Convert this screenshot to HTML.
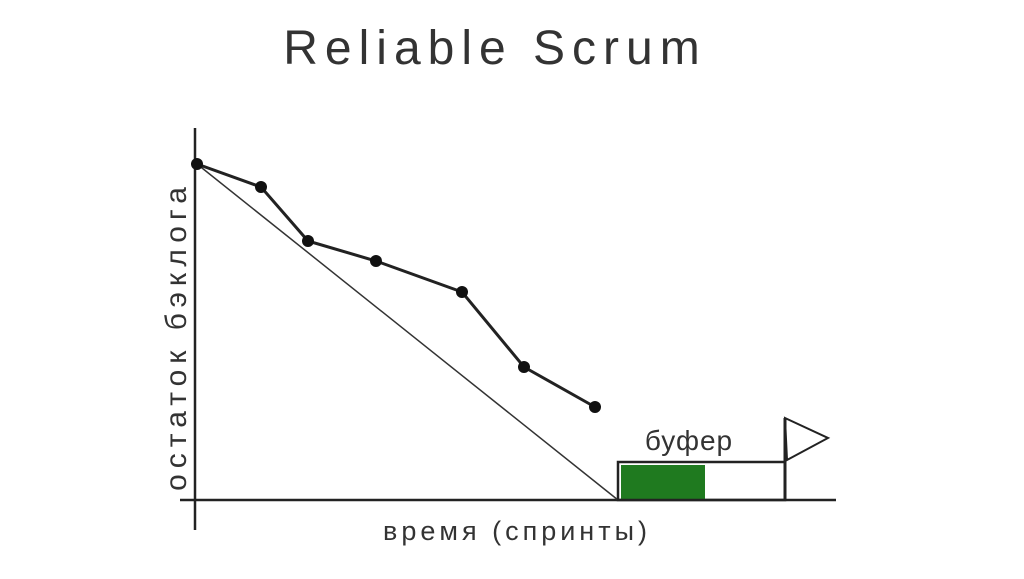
<!DOCTYPE html>
<html><head><meta charset="utf-8"><style>
html,body{margin:0;padding:0;background:#fff;}
body{width:1024px;height:574px;overflow:hidden;}
</style></head><body>
<svg width="1024" height="574" xmlns="http://www.w3.org/2000/svg">
<rect width="1024" height="574" fill="#fff"/>
<text x="495" y="64" text-anchor="middle" font-family="Liberation Sans, sans-serif" font-size="48" fill="#333" letter-spacing="7">Reliable Scrum</text>
<line x1="195" y1="128" x2="195" y2="530" stroke="#222" stroke-width="2.5"/>
<line x1="180" y1="500" x2="836" y2="500" stroke="#222" stroke-width="2.5"/>
<line x1="197" y1="164" x2="618" y2="500" stroke="#333" stroke-width="1.5"/>
<rect x="621" y="465" width="84" height="34" fill="#1f7a1f"/>
<rect x="618" y="462" width="167" height="38" fill="none" stroke="#222" stroke-width="2.5"/>
<line x1="785" y1="418" x2="785" y2="500" stroke="#222" stroke-width="3"/>
<polygon points="785,418 828,438 787,460" fill="none" stroke="#222" stroke-width="2"/>
<polyline points="197,164 261,187 308,241 376,261 462,292 524,367 595,407" fill="none" stroke="#222" stroke-width="3"/>
<g fill="#111">
<circle cx="197" cy="164" r="6"/><circle cx="261" cy="187" r="6"/><circle cx="308" cy="241" r="6"/><circle cx="376" cy="261" r="6"/><circle cx="462" cy="292" r="6"/><circle cx="524" cy="367" r="6"/><circle cx="595" cy="407" r="6"/>
</g>
<text x="689" y="450" text-anchor="middle" font-family="Liberation Sans, sans-serif" font-size="28" fill="#333" letter-spacing="1">буфер</text>
<text x="517" y="540" text-anchor="middle" font-family="Liberation Sans, sans-serif" font-size="27" fill="#333" letter-spacing="4">время (спринты)</text>
<text transform="translate(186,336) rotate(-90)" text-anchor="middle" font-family="Liberation Sans, sans-serif" font-size="30" fill="#333" letter-spacing="6">остаток бэклога</text>
</svg>
</body></html>
